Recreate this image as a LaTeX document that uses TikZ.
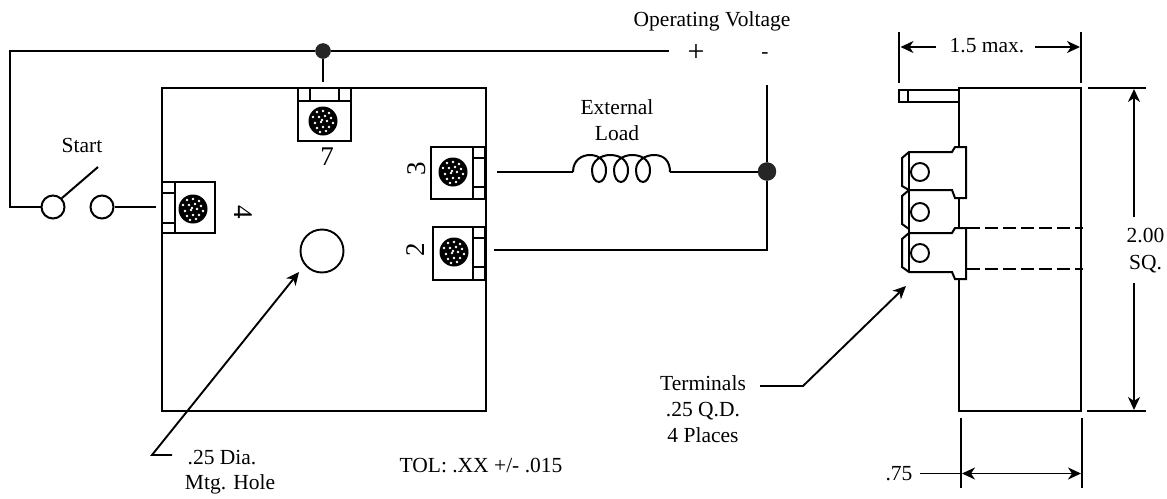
\documentclass[tikz,border=0pt]{standalone}
\usepackage{fontspec}
\setmainfont{Liberation Serif}
\usetikzlibrary{arrows.meta}
\tikzset{
  x=1pt,y=-1pt,
  wire/.style={line width=2pt,line join=miter},
  thin wire/.style={line width=1.9pt},
  tbox/.style={draw,line width=2pt,rectangle,inner sep=0pt,fill=white},
  contact/.style={draw,line width=2pt,circle,inner sep=0pt,minimum size=23pt,fill=white},
  junction/.style={draw=black!90,fill=black!85,circle,inner sep=0pt,minimum size=#1},
  hole/.style={draw,line width=1.9pt,circle,inner sep=0pt,minimum size=43pt},
  lughole/.style={draw,line width=1.9pt,circle,inner sep=0pt,minimum size=18pt,fill=white},
  label/.style={inner sep=0pt,font=\fontsize{21.5}{23}\selectfont,align=center},
  digit/.style={inner sep=0pt,font=\fontsize{27}{27}\selectfont},
  dim/.style={line width=1.9pt,-{Stealth[length=13pt,width=12pt,inset=4pt]}},
  dimboth/.style={line width=1.9pt,{Stealth[length=13pt,width=12pt,inset=4pt]}-{Stealth[length=13pt,width=12pt,inset=4pt]}},
  screw/.pic={
    \fill[black] (0,0) circle (14.5);
    \foreach \a/\b in {-6/-9,0/-10,6/-8,-10/-4,-4/-4,2/-5,8/-3,-8/2,-2/1,4/0,10/2,-6/7,0/6,6/6,-1/-1,3/10,-3/11}
      \fill[white] (\a,\b) circle (1.4);
  }
}
\begin{document}
\begin{tikzpicture}
\useasboundingbox (0,0) rectangle (1167,498);

% ---- main square
\node[draw,line width=2pt,inner sep=0pt,minimum width=324pt,minimum height=323pt] (body) at (324,249.5) {};

% ---- terminals
\node[tbox,minimum width=53pt,minimum height=53pt] (t7) at (324.5,114.5) {};
\draw[wire] (298,101) -- (351,101) (310,88) -- (310,101) (339,88) -- (339,101);
\pic at (323,121) {screw};
\node[tbox,minimum width=54pt,minimum height=52pt] (t3) at (458,173) {};
\draw[wire] (473,147) -- (473,199) (473,158) -- (485,158) (473,187) -- (485,187);
\pic at (453,172) {screw};
\node[tbox,minimum width=52pt,minimum height=53pt] (t2) at (459,253.5) {};
\draw[wire] (473,227) -- (473,280) (473,238) -- (485,238) (473,267) -- (485,267);
\pic at (454,252) {screw};
\node[tbox,minimum width=53pt,minimum height=51pt] (t4) at (188.5,207.5) {};
\draw[wire] (175,182) -- (175,233) (162,193) -- (175,193) (162,223) -- (175,223);
\pic at (193,209) {screw};

\node[digit] (n7) at (327,157) {7};
\node[digit,rotate=90] (n3) at (417,169) {3};
\node[digit,rotate=90] (n2) at (416,250) {2};
\node[digit,rotate=-90] (n4) at (243,212) {4};

\node[hole] (mhole) at (322,251) {};

% ---- circuit
\node[junction=15pt] (jtop) at (323,51) {};
\node[junction=18pt] (jload) at (767,171.5) {};
\node[contact] (sw1) at (53,207) {};
\node[contact] (sw2) at (102,207) {};
\coordinate (wireend) at (669,51);
\coordinate (stub7) at (323,82);
\coordinate (t4end) at (156,207);
\coordinate (c3) at (497,172);
\coordinate (c2) at (494,250);
\coordinate (lever) at (98,167);
\coordinate (vtop) at (767,85);
\coordinate (coilA) at (573,172);
\coordinate (coilB) at (670,172);

\draw[wire] (wireend) -- (jtop) -- (10,51) -- (10,207) -- (sw1.west);
\draw[wire] (jtop) -- (stub7);
\draw[wire] (sw2) -- (t4end);
\draw[wire] (sw1.45) -- (lever);
\draw[wire] (c3) -- (coilA);
\draw[wire] (coilB) -- (jload.west |- coilB);
\draw[wire] (vtop) -- (jload) -- (767,250) -- (c2);
\draw[wire] (coilA)
  .. controls (573,160) and (582,155) .. (590,155)
  .. controls (600,155) and (606,162) .. (606,170)
  .. controls (606,178) and (602,182) .. (599,182)
  .. controls (595,182) and (592,177) .. (592,170)
  .. controls (592,161) and (601,155) .. (610,155)
  .. controls (622,155) and (628,162) .. (628,170)
  .. controls (628,178) and (624,182) .. (621,182)
  .. controls (617,182) and (614,177) .. (614,170)
  .. controls (614,161) and (623,155) .. (632,155)
  .. controls (644,155) and (650,162) .. (650,170)
  .. controls (650,178) and (646,182) .. (643,182)
  .. controls (639,182) and (636,177) .. (636,170)
  .. controls (636,161) and (645,155) .. (654,155)
  .. controls (664,155) and (670,161) .. (coilB);

% ---- side view
\node[draw,line width=2pt,inner sep=0pt,minimum width=122pt,minimum height=323pt] (side) at (1020,249.5) {};
\node[draw,line width=1.9pt,inner sep=0pt,fill=white,minimum width=60pt,minimum height=12pt] (tab) at (929,96) {};
\draw[line width=1.9pt] (908,90) -- (908,102);
\draw[wire,fill=white] (909,152) -- (952,152) -- (955,147) -- (966,147) -- (966,198) -- (955,198) -- (952,190) -- (909,190) -- (902,186) -- (902,158) -- cycle;
\draw[wire] (909,190) -- (902,196) -- (902,224) -- (909,229);
\draw[wire,fill=white] (909,233) -- (952,233) -- (955,228) -- (966,228) -- (966,279) -- (955,279) -- (952,272) -- (909,272) -- (902,267) -- (902,239) -- cycle;
\draw[wire] (909,152) -- (909,272);
\node[lughole] (l1) at (920,172) {};
\node[lughole] (l2) at (920,212) {};
\node[lughole] (l3) at (920,253) {};
\draw[line width=1.8pt,dash pattern=on 13pt off 5pt] (967,228) -- (1083,228) (967,269) -- (1083,269);

% ---- dimensions
\coordinate (a1) at (899,32); \coordinate (a2) at (899,83);
\coordinate (b1) at (1081,32); \coordinate (b2) at (1081,83);
\draw[thin wire] (a1) -- (a2) (b1) -- (b2);
\node[label] (dim15) at (987,46) {1.5 max.};
\coordinate (p1) at (936,47); \coordinate (p2) at (1035,47);
\draw[dim] (p1) -- (900.5,47);
\draw[dim] (p2) -- (1080,47);

\coordinate (c1) at (1088,88); \coordinate (c1b) at (1146,88);
\coordinate (d1) at (1087,411); \coordinate (d1b) at (1146,411);
\draw[thin wire] (c1) -- (c1b) (d1) -- (d1b);
\node[label] (dim2) at (1145.5,251) {2.00\\[4pt]SQ.};
\coordinate (e1) at (1134,217); \coordinate (e2) at (1134,283);
\draw[dim] (e1) -- (1134,89);
\draw[dim] (e2) -- (1134,410);

\coordinate (f1) at (961,418); \coordinate (f2) at (961,488);
\coordinate (g1) at (1082,418); \coordinate (g2) at (1082,488);
\draw[thin wire] (f1) -- (f2) (g1) -- (g2);
\node[label] (dim75) at (899,474) {.75};
\draw[thin wire] (920,473.5) -- (961,473.5);
\draw[dimboth] (962,473.5) -- (1081,473.5);

% ---- leaders
\node[label] (lterm) at (703,409) {Terminals\\[3pt].25 Q.D.\\[3pt]4 Places};
\coordinate (lt1) at (760,386); \coordinate (lt2) at (803,386); \coordinate (lt3) at (906,286);
\draw[dim] (lt1) -- (lt2) -- (lt3);
\coordinate (lh1) at (172,455); \coordinate (lh2) at (152,455);
\draw[dim] (lh1) -- (lh2) -- (299,272);

% ---- labels
\node[label] (lvolt) at (712,21) {Operating Voltage};
\node[label,font=\fontsize{30}{30}\selectfont] (lplus) at (696,53) {+};
\node[label] (lminus) at (765,56) {-};
\node[label] (lstart) at (82,145) {Start};
\node[label] (lload) at (617,120) {External\\[3pt]Load};
\node[label] (ldia) at (222,458) {.25 Dia.};
\node[label] (lmtg) at (230,484) {Mtg. Hole};
\node[label] (ltol) at (481,465) {TOL: .XX +/- .015};
\end{tikzpicture}
\end{document}
